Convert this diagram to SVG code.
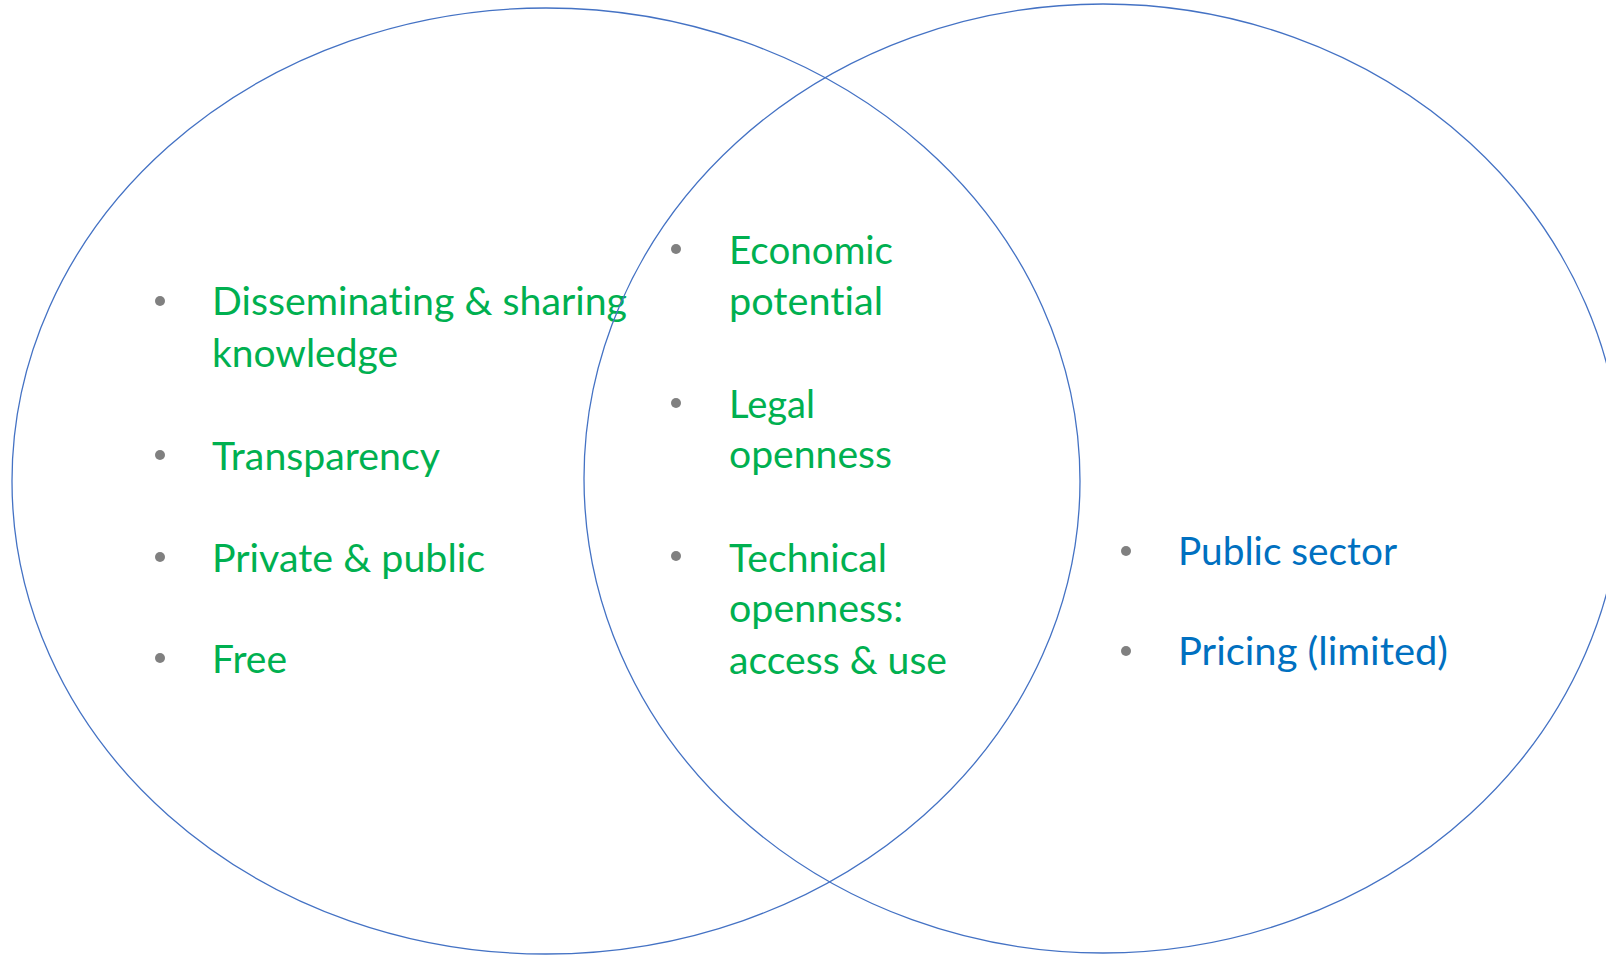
<svg xmlns="http://www.w3.org/2000/svg" width="1606" height="955" viewBox="0 0 1606 955">
<style>
.ell{fill:none;stroke:#4472C4;stroke-width:1.3}
.g{fill:#00B050}
.b{fill:#0070C0}
text{font-family:Lato,"Open Sans","Liberation Sans",sans-serif;font-size:39px;font-variant-ligatures:none}
.dot{fill:#808080}
</style>
<rect width="1606" height="955" fill="#ffffff"/>
<g id="left-set">
<ellipse class="ell" cx="546" cy="481" rx="534" ry="473"/>
<circle class="dot" cx="160" cy="301" r="5"/>
<text class="g" x="212" y="315" textLength="415" lengthAdjust="spacingAndGlyphs">Disseminating &amp; sharing</text>
<text class="g" x="212" y="367" textLength="186" lengthAdjust="spacingAndGlyphs">knowledge</text>
<circle class="dot" cx="160" cy="455" r="5"/>
<text class="g" x="212" y="470" textLength="228" lengthAdjust="spacingAndGlyphs">Transparency</text>
<circle class="dot" cx="160" cy="557" r="5"/>
<text class="g" x="212" y="572" textLength="273" lengthAdjust="spacingAndGlyphs">Private &amp; public</text>
<circle class="dot" cx="160" cy="658" r="5"/>
<text class="g" x="212" y="673" textLength="75" lengthAdjust="spacingAndGlyphs">Free</text>
</g>
<g id="right-set">
<ellipse class="ell" cx="1103" cy="478.5" rx="519" ry="474.5"/>
<circle class="dot" cx="1126" cy="551" r="5"/>
<text class="b" x="1178" y="565" textLength="219" lengthAdjust="spacingAndGlyphs">Public sector</text>
<circle class="dot" cx="1126" cy="651" r="5"/>
<text class="b" x="1178" y="665" textLength="270" lengthAdjust="spacingAndGlyphs">Pricing (limited)</text>
</g>
<g id="intersection">
<circle class="dot" cx="676" cy="249" r="5"/>
<text class="g" x="729" y="264" textLength="164" lengthAdjust="spacingAndGlyphs">Economic</text>
<text class="g" x="729" y="315" textLength="154" lengthAdjust="spacingAndGlyphs">potential</text>
<circle class="dot" cx="676" cy="403" r="5"/>
<text class="g" x="729" y="418" textLength="86" lengthAdjust="spacingAndGlyphs">Legal</text>
<text class="g" x="729" y="468" textLength="163" lengthAdjust="spacingAndGlyphs">openness</text>
<circle class="dot" cx="676" cy="556" r="5"/>
<text class="g" x="729" y="572" textLength="158" lengthAdjust="spacingAndGlyphs">Technical</text>
<text class="g" x="729" y="622" textLength="174" lengthAdjust="spacingAndGlyphs">openness:</text>
<text class="g" x="729" y="674" textLength="218" lengthAdjust="spacingAndGlyphs">access &amp; use</text>
</g>
<g id="connectors"/>
</svg>
